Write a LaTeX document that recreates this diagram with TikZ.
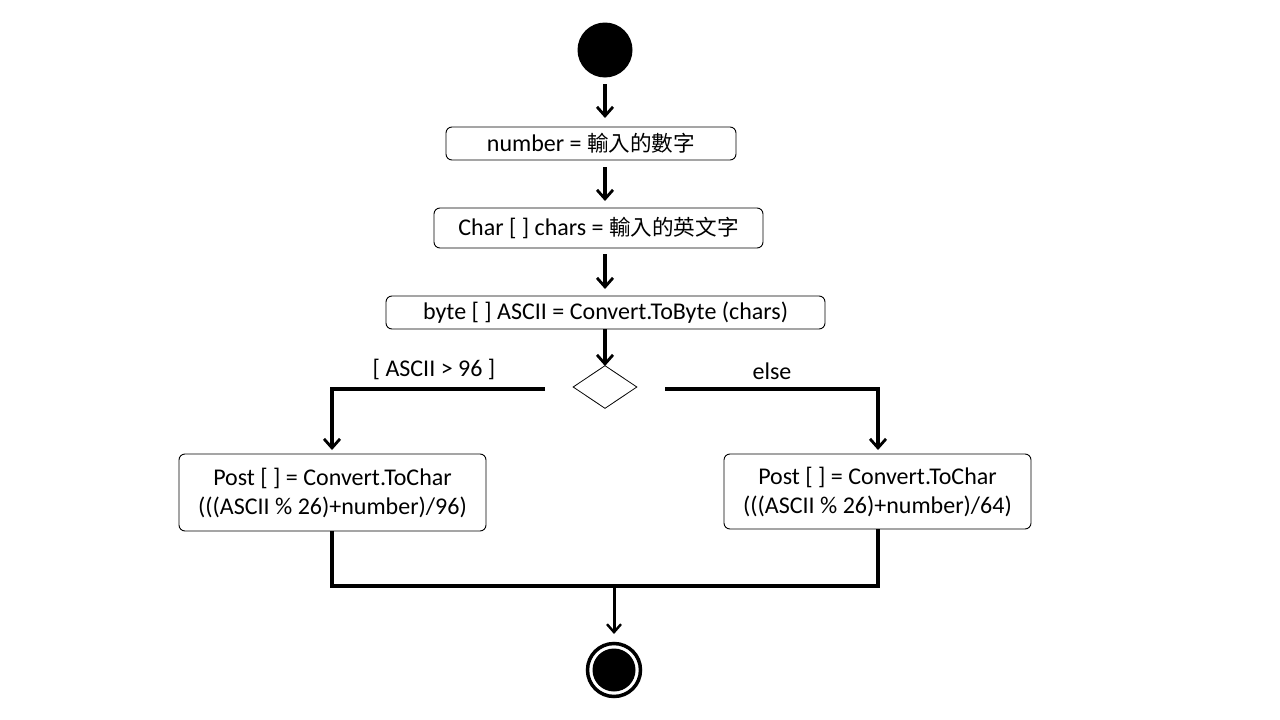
\documentclass[tikz,border=0pt]{standalone}
\usepackage{fontspec}
\setmainfont{Carlito}
\newfontfamily\cjk{Noto Sans CJK TC}[Scale=0.9]
\usetikzlibrary{arrows.meta,shapes.geometric}
\begin{document}
\begin{tikzpicture}[x=1pt,y=-1pt,
  every node/.style={font=\fontsize{24}{29}\selectfont},
  actbox/.style={draw,line width=0.9pt,rounded corners=6pt,inner sep=0pt},
  flow/.style={line width=3.5pt,-{Straight Barb[length=9pt,width=16pt,line width=2.8pt]}},
  bar/.style={line width=3.5pt},
  flowthin/.style={line width=3pt,-{Straight Barb[length=8pt,width=14pt,line width=2.4pt]}}]
\useasboundingbox (0,0) rectangle (1280,720);
\node[circle,fill=black,minimum size=55pt,inner sep=0pt] (start) at (605,50) {};
\node[actbox,minimum width=290pt,minimum height=33pt] (b1) at (591,143.5) {number = {\cjk 輸入的數字}};
\node[actbox,minimum width=329pt,minimum height=40pt] (b2) at (598.5,228) {Char [ ] chars = {\cjk 輸入的英文字}};
\node[actbox,minimum width=439pt,minimum height=33pt] (b3) at (605.5,312.5) {byte [ ] ASCII = Convert.ToByte (chars)};
\node[draw,diamond,line width=0.8pt,minimum width=64pt,minimum height=43pt,inner sep=0pt] (d) at (605,387) {};
\node[actbox,minimum width=307pt,minimum height=77pt,align=center] (bl) at (332.5,492.5) {Post [ ] = Convert.ToChar\\(((ASCII \% 26)+number)/96)};
\node[actbox,minimum width=307pt,minimum height=75pt,align=center] (br) at (877.5,491.5) {Post [ ] = Convert.ToChar\\(((ASCII \% 26)+number)/64)};
\node[circle,draw,line width=3.5pt,minimum size=53pt,inner sep=0pt] (endo) at (614,670) {};
\node[circle,fill=black,minimum size=43pt,inner sep=0pt] (endi) at (614,670) {};
\node (gl) at (434,369) {[ ASCII > 96 ]};
\node (ge) at (772,371) {else};
\coordinate (a1s) at (605,84);
\coordinate (a1e) at (605,118);
\coordinate (a2s) at (605,167);
\coordinate (a2e) at (605,201);
\coordinate (a3s) at (605,254);
\coordinate (a3e) at (605,289);
\coordinate (a4e) at (605,366);
\coordinate (ls) at (545,389);
\coordinate (lc) at (332,389);
\coordinate (le) at (332,450);
\coordinate (rs) at (665,389);
\coordinate (rc) at (878,389);
\coordinate (re) at (878,450);
\coordinate (ml) at (332,586);
\coordinate (mr) at (878,586);
\coordinate (mm) at (614,586);
\coordinate (me) at (614,634);
\draw[flow] (a1s) -- (a1e);
\draw[flow] (a2s) -- (a2e);
\draw[flow] (a3s) -- (a3e);
\draw[flow] (b3.south -| a3s) -- (a4e);
\draw[flow] (ls) -- (lc) -- (le);
\draw[flow] (rs) -- (rc) -- (re);
\draw[bar] (bl.south -| ml) -- (ml) -- (mr) -- (br.south -| mr);
\draw[flowthin] (mm) -- (me);
\end{tikzpicture}
\end{document}
